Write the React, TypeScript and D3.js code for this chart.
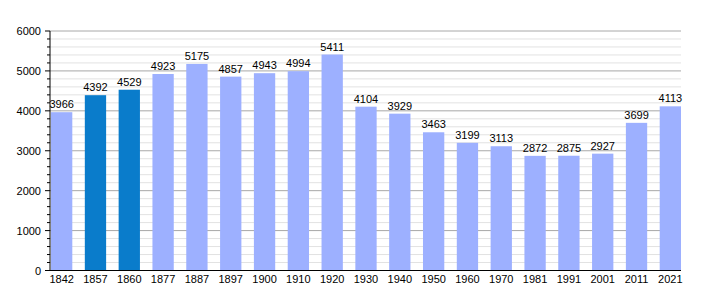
import React from "react";
import * as d3 from "d3";

const years = ["1842","1857","1860","1877","1887","1897","1900","1910","1920","1930","1940","1950","1960","1970","1981","1991","2001","2011","2021"];
const population = [3966,4392,4529,4923,5175,4857,4943,4994,5411,4104,3929,3463,3199,3113,2872,2875,2927,3699,4113];
const highlighted = ["1857","1860"];
const yTicks = [0,1000,2000,3000,4000,5000,6000];

export default function App() {
  const W = 710, H = 300;
  const left = 50, right = 681, top = 31, bottom = 270.5;
  const x = d3.scaleBand<string>().domain(years).range([left + 1, right]).paddingInner(0.37).paddingOuter(0);
  const y = d3.scaleLinear().domain([0, 6000]).range([bottom, top]);
  const minor = d3.range(0, 6001, 200);
  const font = "Liberation Sans, Arial, sans-serif";
  return (
    <svg width={W} height={H} style={{ position: "absolute", left: 0, top: 0 }} fontFamily={font}>
      <rect width={W} height={H} fill="#fff" />
      {minor.filter(v => v % 1000 !== 0).map(v => (
        <line key={"m" + v} x1={left} x2={right} y1={y(v)} y2={y(v)} stroke="#e2e2e2" strokeWidth={1} />
      ))}
      {yTicks.filter(v => v !== 0).map(v => (
        <line key={"g" + v} x1={left} x2={right} y1={y(v)} y2={y(v)} stroke="#a8a8a8" strokeWidth={1} />
      ))}
      {years.map((yr, i) => (
        <rect key={yr} x={x(yr)} y={y(population[i])} width={x.bandwidth()} height={bottom - y(population[i])}
          fill={highlighted.includes(yr) ? "#0a7ccb" : "#9db0ff"} />
      ))}
      {years.map((yr, i) => (
        <text key={"v" + yr} x={(x(yr) as number) + x.bandwidth() / 2} y={y(population[i]) - 4} textAnchor="middle" fontSize={11} fill="#000">
          {population[i]}
        </text>
      ))}
      {minor.map(v => (
        <line key={"t" + v} x1={v % 1000 === 0 ? left - 5 : left - 3} x2={left} y1={y(v)} y2={y(v)} stroke="#000" strokeWidth={1} />
      ))}
      <line x1={left} x2={left} y1={top} y2={bottom} stroke="#000" strokeWidth={1} />
      <line x1={left} x2={right} y1={bottom} y2={bottom} stroke="#000" strokeWidth={1.2} />
      {yTicks.map(v => (
        <text key={"yl" + v} x={41} y={y(v) + 4} textAnchor="end" fontSize={11} fill="#000">{v}</text>
      ))}
      {years.map(yr => (
        <text key={"xl" + yr} x={(x(yr) as number) + x.bandwidth() / 2} y={283} textAnchor="middle" fontSize={11} fill="#000">{yr}</text>
      ))}
    </svg>
  );
}
